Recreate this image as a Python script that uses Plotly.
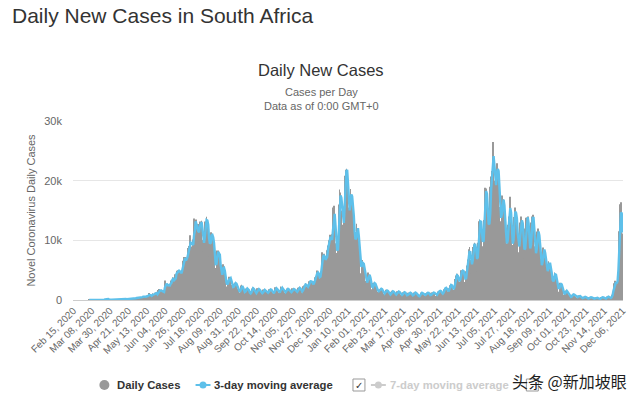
import pandas as pd
import plotly.graph_objects as go

# ---------------- data (daily new cases, South Africa) ----------------
start_date = "2020-02-15"
pre_outbreak = [None] * 19  # Feb 15 - Mar 4, 2020: no reported cases
mar_2020 = [1, 0, 1, 1, 4, 0, 6, 3, 8, 14, 13, 11, 23, 31, 34, 52, 38, 34, 128, 152, 155, 218, 243, 17, 93, 46, 27]
apr_2020 = [109, 82, 43, 80, 76, 63, 63, 96, 87, 71, 95, 99, 145, 143, 98, 178, 99, 251, 88, 124, 135, 165, 318, 267,
            174, 143, 147, 247, 354, 297]
may_2020 = [365, 385, 447, 437, 274, 353, 424, 663, 595, 595, 488, 577, 698, 518, 840, 1160, 615, 658, 767, 1134, 803,
            933, 1218, 1240, 1032, 597, 1673, 1837, 1288, 1727, 1716]
jun_2020 = [1013, 1455, 1550, 3267, 2642, 2312, 2563, 2430, 2594, 2312, 3267, 3147, 3809, 3638, 2459, 4302, 4078, 4884,
            4966, 4800, 5000, 4621, 4288, 4518, 6579, 6215, 7210, 7210, 6334, 6945]
jul_2020 = [8124, 8728, 9063, 10853, 8971, 8773, 10134, 8810, 13674, 12348, 13497, 12058, 9758, 12757, 11554, 13172,
            12757, 13285, 10107, 8170, 10496, 13150, 13104, 13944, 12904, 11014, 7232, 10107, 11362, 11046, 10376]
aug_2020 = [10107, 8195, 5377, 4456, 8307, 7712, 8307, 7364, 7131, 2810, 4500, 5400, 6000, 4800, 3900, 2541, 2258, 2989,
            3251, 3880, 3398, 3707, 2505, 1842, 2143, 2728, 2889, 2891, 2376, 1895, 1567]
sep_2020 = [1216, 1198, 2420, 2559, 2046, 1607, 1209, 1218, 1923, 1897, 2019, 1504, 1439, 772, 1070, 1923, 1850, 2088,
            1554, 1283, 1098, 1069, 1981, 1926, 1602, 1604, 1373, 950, 1113, 1767]
oct_2020 = [1722, 1589, 1401, 1327, 1036, 1283, 1813, 1778, 1732, 1616, 1157, 1083, 1114, 2132, 1906, 1924, 1733, 1270,
            942, 1542, 2269, 1939, 1981, 1690, 1249, 1018, 1673, 1826, 1925, 1880, 1542]
nov_2020 = [1436, 1015, 1478, 1950, 1820, 1793, 1722, 1383, 1023, 1698, 2036, 2102, 1979, 1715, 1316, 1202, 2302, 2445,
            2544, 2824, 2295, 1975, 2340, 3148, 2992, 3220, 3122, 2759, 2260, 3154]
dec_2020 = [3813, 4011, 4400, 4932, 4460, 3662, 3313, 4773, 6709, 7999, 6882, 7739, 7318, 5163, 8319, 8166, 9126,
            10008, 10939, 10853, 8789, 11000, 15500, 15800, 12000, 9502, 7458, 7882, 10000, 16000, 18500]
jan_2021 = [18000, 15002, 12601, 11859, 14305, 20820, 21832, 21980, 21606, 15484, 12601, 17000, 18600, 17500, 16000,
            14500, 12000, 8000, 10500, 12800, 11800, 11500, 9000, 6300, 4500, 6000, 6700, 5900, 5600, 4500, 3200]
feb_2021 = [2548, 2996, 4597, 4279, 3742, 3136, 1758, 1742, 2841, 2884, 2776, 2543, 2071, 1400, 1337, 1648, 1800, 1960,
            1870, 1590, 1049, 979, 1219, 1616, 1708, 1459, 1401, 924]
mar_2021 = [1059, 737, 1397, 1555, 1402, 1209, 936, 739, 1000, 1468, 1401, 1393, 1235, 889, 542, 1104, 1304, 1380,
            1203, 1076, 646, 636, 1229, 1218, 1236, 1175, 1021, 572, 745, 1267, 1254]
apr_2021 = [1208, 1059, 920, 605, 498, 729, 1219, 1223, 1190, 1012, 766, 662, 1051, 1138, 1267, 1211, 1093, 731, 609,
            1222, 1240, 1206, 1248, 1152, 669, 682, 1171, 1407, 1478, 1542]
may_2021 = [1614, 1321, 737, 1118, 1800, 1993, 2070, 2054, 1450, 1011, 1961, 2464, 2609, 2555, 2245, 1402, 1669, 3500,
            3900, 4100, 4400, 3700, 2700, 3000, 4500, 5000, 4800, 5000, 4700, 3000, 3100]
jun_2021 = [4800, 5800, 6800, 8500, 8900, 6700, 4400, 6800, 8900, 9300, 9600, 8900, 7000, 4800, 9600, 13200, 13500,
            12800, 13000, 9000, 7300, 13400, 17300, 18800, 18700, 15900, 13600, 8900, 15600, 19000]
jul_2021 = [20700, 21600, 26500, 24300, 16600, 20000, 21100, 22900, 21900, 20000, 15600, 12500, 13200, 17500, 16000,
            16900, 14700, 11100, 7800, 9500, 12600, 14000, 14900, 17300, 11900, 7200, 9200, 13900, 15100, 15500, 13200]
aug_2021 = [12300, 8000, 7400, 11500, 13000, 14000, 13100, 11500, 7000, 6900, 12000, 13800, 13800, 14000, 11000, 5900,
            9000, 13000, 14000, 14300, 13000, 9000, 5600, 8900, 11500, 12000, 11000, 9500, 7000, 4000, 6500]
sep_2021 = [8800, 8400, 8200, 7000, 5500, 3600, 5500, 6500, 6200, 5500, 4600, 3300, 2100, 4000, 4600, 4300, 3800, 2800,
            1800, 1400, 2800, 2900, 2600, 2200, 1500, 900, 800, 1500, 1600, 1500]
oct_2021 = [1000, 900, 700, 450, 400, 900, 1000, 950, 800, 600, 350, 400, 700, 750, 650, 580, 400, 210, 350, 540, 520,
            500, 400, 280, 150, 300, 480, 450, 440, 400, 200]
nov_2021 = [180, 280, 380, 350, 400, 330, 150, 90, 300, 500, 460, 450, 380, 200, 150, 350, 570, 600, 500, 400, 300, 270,
            870, 1275, 2465, 2828, 3220, 2858, 2273, 4373]
dec_2021 = [8561, 11535, 16055, 16366, 11125, 6381]

tick_labels = ["Feb 15, 2020", "Mar 08, 2020", "Mar 30, 2020", "Apr 21, 2020", "May 13, 2020", "Jun 04, 2020",
               "Jun 26, 2020", "Jul 18, 2020", "Aug 09, 2020", "Aug 31, 2020", "Sep 22, 2020", "Oct 14, 2020",
               "Nov 05, 2020", "Nov 27, 2020", "Dec 19, 2020", "Jan 10, 2021", "Feb 01, 2021", "Feb 23, 2021",
               "Mar 17, 2021", "Apr 08, 2021", "Apr 30, 2021", "May 22, 2021", "Jun 13, 2021", "Jul 05, 2021",
               "Jul 27, 2021", "Aug 18, 2021", "Sep 09, 2021", "Oct 01, 2021", "Oct 23, 2021", "Nov 14, 2021",
               "Dec 06, 2021"]
y_tick_vals = [0, 10000, 20000, 30000]
y_tick_text = ["0", "10k", "20k", "30k"]

# ---------------- build series ----------------
daily = (pre_outbreak + mar_2020 + apr_2020 + may_2020 + jun_2020 + jul_2020 + aug_2020 + sep_2020 + oct_2020
         + nov_2020 + dec_2020 + jan_2021 + feb_2021 + mar_2021 + apr_2021 + may_2021 + jun_2021 + jul_2021
         + aug_2021 + sep_2021 + oct_2021 + nov_2021 + dec_2021)
dates = pd.date_range(start_date, periods=len(daily), freq="D")
cases = pd.Series(daily, index=dates, dtype="float")
ma3 = cases.rolling(3, min_periods=1).mean()
tick_dates = pd.to_datetime(tick_labels, format="%b %d, %Y")

FONT = "Liberation Sans, Arial, Helvetica, sans-serif"
GREY_BAR = "#999999"
BLUE = "#5ec0ea"

# plot area in pixels: x 73..625, y 121..300
L, R, T, B = 73, 15, 121, 100
W, H = 640, 400
PW, PH = W - L - R, H - T - B


def px(x):
    return (x - L) / PW


def py(y):
    return (T + PH - y) / PH


fig = go.Figure()
fig.add_trace(go.Bar(x=dates, y=cases, name="Daily Cases", marker=dict(color=GREY_BAR, line=dict(width=0)),
                     showlegend=False))
fig.add_trace(go.Scatter(x=dates, y=ma3, name="3-day moving average", mode="lines",
                         line=dict(color=BLUE, width=2.4), showlegend=False))

annotations = [
    dict(text="Daily New Cases in South Africa", x=px(10), y=py(16), xanchor="left", yanchor="middle",
         font=dict(size=21, color="#333333", family=FONT)),
    dict(text="Daily New Cases", x=px(322), y=py(70), xanchor="center", yanchor="middle",
         font=dict(size=16.5, color="#333333", family=FONT)),
    dict(text="Cases per Day", x=px(322), y=py(92.5), xanchor="center", yanchor="middle",
         font=dict(size=11, color="#666666", family=FONT)),
    dict(text="Data as of 0:00 GMT+0", x=px(322), y=py(106), xanchor="center", yanchor="middle",
         font=dict(size=11, color="#666666", family=FONT)),
    # legend texts
    dict(text="<b>Daily Cases</b>", x=px(115), y=py(385), xanchor="left", yanchor="middle",
         font=dict(size=11.3, color="#333333", family=FONT)),
    dict(text="<b>3-day moving average</b>", x=px(213), y=py(385), xanchor="left", yanchor="middle",
         font=dict(size=11.3, color="#333333", family=FONT)),
    dict(text="✓", x=px(360), y=py(385.5), xanchor="center", yanchor="middle",
         font=dict(size=10, color="#333333", family="DejaVu Sans")),
    dict(text="<b>7-day moving average</b>", x=px(389), y=py(385), xanchor="left", yanchor="middle",
         font=dict(size=11.3, color="#cccccc", family=FONT)),
    dict(text="头条 @新加坡眼", x=px(571), y=py(381), xanchor="center", yanchor="middle",
         font=dict(size=16, color="#1e1e1e", family="Noto Sans CJK SC")),
]
for a in annotations:
    a.update(xref="paper", yref="paper", showarrow=False)

shapes = [
    # Daily cases legend symbol
    dict(type="circle", x0=px(99.5), x1=px(109.5), y0=py(390), y1=py(380), fillcolor=GREY_BAR, line=dict(width=0)),
    # 3-day legend symbol
    dict(type="line", x0=px(196), x1=px(211), y0=py(385), y1=py(385), line=dict(color=BLUE, width=2)),
    dict(type="circle", x0=px(200), x1=px(207), y0=py(388.5), y1=py(381.5), fillcolor=BLUE, line=dict(width=0)),
    # checkbox 1
    dict(type="rect", x0=px(354), x1=px(366), y0=py(391), y1=py(379), fillcolor="white",
         line=dict(color="#999999", width=1)),
    # 7-day legend symbol (hidden series)
    dict(type="line", x0=px(372), x1=px(387), y0=py(385), y1=py(385), line=dict(color="#cccccc", width=2)),
    dict(type="circle", x0=px(376), x1=px(383), y0=py(388.5), y1=py(381.5), fillcolor="#cccccc", line=dict(width=0)),
    # checkbox 2
    dict(type="rect", x0=px(528), x1=px(540), y0=py(391), y1=py(379), fillcolor="white",
         line=dict(color="#999999", width=1)),
]
for s in shapes:
    s.update(xref="paper", yref="paper", layer="above")

fig.update_layout(
    width=W, height=H,
    margin=dict(l=L, r=R, t=T, b=B, pad=0),
    paper_bgcolor="white", plot_bgcolor="white",
    bargap=0.25,
    showlegend=False,
    font=dict(family=FONT, color="#666666"),
    annotations=annotations,
    shapes=shapes,
    xaxis=dict(
        type="date",
        range=[pd.Timestamp("2020-02-14 12:00"), pd.Timestamp("2021-12-06 12:00")],
        tickmode="array", tickvals=tick_dates, ticktext=tick_labels,
        tickangle=-45, tickfont=dict(size=10, color="#666666", family=FONT),
        showgrid=False, zeroline=False, showline=True, linecolor="#cccccc", linewidth=1,
        ticks="", fixedrange=True,
    ),
    yaxis=dict(
        range=[0, 30000],
        tickmode="array", tickvals=y_tick_vals, ticktext=y_tick_text,
        tickfont=dict(size=11, color="#666666", family=FONT),
        showgrid=True, gridcolor="#e6e6e6", gridwidth=1, zeroline=False,
        ticks="", ticklabelstandoff=10, fixedrange=True,
        title=dict(text="Novel Coronavirus Daily Cases", standoff=6,
                   font=dict(size=11, color="#666666", family=FONT)),
    ),
)

fig.write_html("out.html", config={"displayModeBar": False},
               post_script="document.body.style.margin='0';document.body.style.overflow='hidden';")
